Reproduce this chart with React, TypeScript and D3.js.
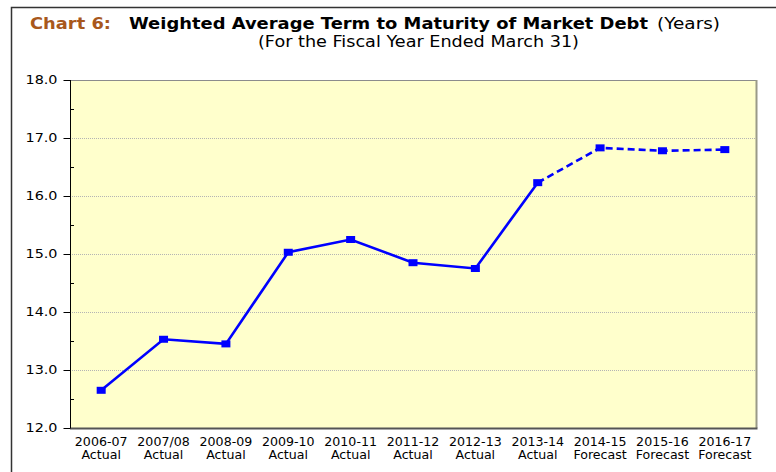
import { useEffect, useRef } from "react";
import * as d3 from "d3";

const years = [
  "2006-07", "2007/08", "2008-09", "2009-10", "2010-11", "2011-12",
  "2012-13", "2013-14", "2014-15", "2015-16", "2016-17",
];
const status = [
  "Actual", "Actual", "Actual", "Actual", "Actual", "Actual",
  "Actual", "Actual", "Forecast", "Forecast", "Forecast",
];
const termYears = [12.65, 13.53, 13.45, 15.03, 15.25, 14.85, 14.75, 16.23, 16.83, 16.78, 16.8];
const yTicks = [12, 13, 14, 15, 16, 17, 18];
const lastActual = 7;

const FONT = "Verdana, 'DejaVu Sans', sans-serif";
// the original is stretched sideways a little, so widen the glyphs
const STRETCH = 1.18;

export default function App() {
  const svgRef = useRef<SVGSVGElement>(null);

  useEffect(() => {
    if (!svgRef.current) return;
    const width = 776;
    const height = 472;
    const margin = { top: 80, right: 20, bottom: 44, left: 70 };

    const svg = d3.select(svgRef.current);
    svg.selectAll("*").remove();

    // outer frame
    svg
      .append("rect")
      .attr("x", 11.5)
      .attr("y", 7.5)
      .attr("width", width + 20)
      .attr("height", height + 20)
      .attr("fill", "#fff")
      .attr("stroke", "#333")
      .attr("stroke-width", 1.5);

    // title pieces, stretched to the widths of the original
    const addText = (
      x: number,
      yy: number,
      txt: string,
      len: number,
      opts: { bold?: boolean; fill?: string; anchor?: string; size?: number }
    ) =>
      svg
        .append("text")
        .attr("x", x)
        .attr("y", yy)
        .attr("text-anchor", opts.anchor ?? "start")
        .attr("font-family", FONT)
        .attr("font-size", opts.size ?? 15)
        .attr("font-weight", opts.bold ? "bold" : "normal")
        .attr("fill", opts.fill ?? "#000")
        .attr("textLength", len)
        .attr("lengthAdjust", "spacingAndGlyphs")
        .text(txt);

    addText(30, 29, "Chart 6:", 81, { bold: true, fill: "#a8581c" });
    addText(129, 29, "Weighted Average Term to Maturity of Market Debt", 519, { bold: true });
    addText(657, 29, "(Years)", 63, {});
    addText(258, 47, "(For the Fiscal Year Ended March 31)", 321, {});

    const x = d3
      .scaleBand<string>()
      .domain(years)
      .range([margin.left, width - margin.right]);

    const y = d3
      .scaleLinear()
      .domain([12, 18])
      .range([height - margin.bottom, margin.top]);

    const x0 = margin.left;
    const x1 = width - margin.right;
    const yb = y(12);
    const yt = y(18);

    // plot background
    svg
      .append("rect")
      .attr("x", x0)
      .attr("y", yt)
      .attr("width", x1 - x0)
      .attr("height", yb - yt)
      .attr("fill", "#ffffcc");

    // gridlines
    svg
      .append("g")
      .selectAll("line")
      .data(yTicks.slice(1, -1))
      .join("line")
      .attr("x1", x0)
      .attr("x2", x1)
      .attr("y1", (d) => Math.round(y(d)) + 0.5)
      .attr("y2", (d) => Math.round(y(d)) + 0.5)
      .attr("stroke", "#b4b4b4")
      .attr("stroke-dasharray", "1,1");

    // plot border: top, right (shadow), bottom
    svg
      .append("line")
      .attr("x1", x0)
      .attr("x2", x1)
      .attr("y1", yt + 0.5)
      .attr("y2", yt + 0.5)
      .attr("stroke", "#8c8c8c");
    svg
      .append("line")
      .attr("x1", x1 + 0.5)
      .attr("x2", x1 + 0.5)
      .attr("y1", yt)
      .attr("y2", yb)
      .attr("stroke", "#9a9a88")
      .attr("stroke-width", 2);
    svg
      .append("line")
      .attr("x1", x0)
      .attr("x2", x1 + 1.5)
      .attr("y1", yb + 0.5)
      .attr("y2", yb + 0.5)
      .attr("stroke", "#555")
      .attr("stroke-width", 2);

    // y axis
    const yAxis = svg
      .append("g")
      .attr("transform", `translate(${x0 + 0.5},0)`)
      .call(
        d3
          .axisLeft(y)
          .tickValues(yTicks)
          .tickFormat(d3.format(".1f"))
          .tickSize(7)
          .tickPadding(6)
      );
    yAxis.select(".domain").attr("stroke", "#000").attr("d", `M0,${yt}V${yb}`);
    yAxis.selectAll(".tick line").attr("stroke", "#000");
    yAxis
      .selectAll<SVGTextElement, number>("text")
      .attr("font-family", FONT)
      .attr("font-size", 11.5)
      .attr("fill", "#000")
      .attr("textLength", 32)
      .attr("lengthAdjust", "spacingAndGlyphs");

    // minor ticks
    svg
      .append("g")
      .selectAll("line")
      .data(d3.range(12.5, 18, 1))
      .join("line")
      .attr("x1", x0)
      .attr("x2", x0 + 4)
      .attr("y1", (d) => Math.round(y(d)) + 0.5)
      .attr("y2", (d) => Math.round(y(d)) + 0.5)
      .attr("stroke", "#000");

    // x labels
    const cx = (d: string) => (x(d) ?? 0) + x.bandwidth() / 2;
    const xl = svg
      .append("g")
      .selectAll("g")
      .data(years)
      .join("g")
      .attr("transform", (d) => `translate(${cx(d)},${yb}) scale(${STRETCH * 0.93},1)`)
      .attr("font-family", FONT)
      .attr("font-size", 11.5)
      .attr("fill", "#000")
      .attr("text-anchor", "middle");
    xl.append("text").attr("y", 18).text((d) => d);
    xl.append("text").attr("y", 31).text((d, i) => status[i]);

    const pts = years.map((c, i) => [cx(c), y(termYears[i])] as [number, number]);
    const line = d3.line();

    svg
      .append("path")
      .attr("d", line(pts.slice(0, lastActual + 1)))
      .attr("fill", "none")
      .attr("stroke", "#0000ff")
      .attr("stroke-width", 2.6);
    svg
      .append("path")
      .attr("d", line(pts.slice(lastActual)))
      .attr("fill", "none")
      .attr("stroke", "#0000ff")
      .attr("stroke-width", 2.6)
      .attr("stroke-dasharray", "7,4");

    svg
      .append("g")
      .selectAll("rect")
      .data(pts)
      .join("rect")
      .attr("x", (d) => d[0] - 4.5)
      .attr("y", (d) => d[1] - 3.5)
      .attr("width", 9)
      .attr("height", 7)
      .attr("fill", "#0000ff");
  }, []);

  return (
    <svg
      ref={svgRef}
      width={776}
      height={472}
      style={{ position: "absolute", left: 0, top: 0, display: "block" }}
    />
  );
}
